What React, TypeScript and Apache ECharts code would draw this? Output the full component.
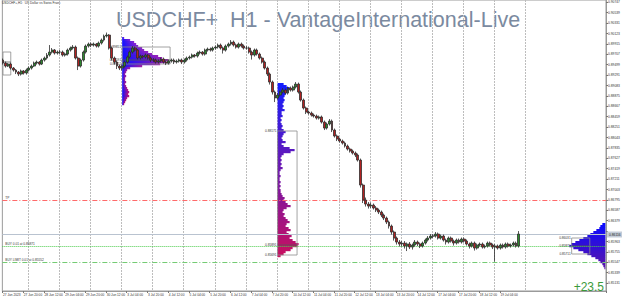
import React, { useEffect, useRef } from "react";
import * as echarts from "echarts";

// ---------- time axis ----------
const tradingDays = ["27 Jun", "28 Jun", "29 Jun", "30 Jun", "3 Jul", "4 Jul", "5 Jul", "6 Jul", "7 Jul", "10 Jul", "11 Jul", "12 Jul", "13 Jul", "14 Jul", "17 Jul", "18 Jul", "19 Jul", "20 Jul", "21 Jul", "24 Jul"];
const firstYear = "2023";
const firstHour = 4;
const totalSlots = 466; // hourly slots visible on the chart (incl. empty future area)
const lastBarSlot = 399;
const lastGridSlot = 404;
const labelEvery = 16;

// ---------- 2-hour candles (USDCHF+) ----------
const opens = [
  0.8959, 0.8953, 0.8947, 0.8951, 0.8943, 0.8939, 0.8935, 0.8931, 0.8937, 0.8933,
  0.8939, 0.8943, 0.8947, 0.8953, 0.8955, 0.8951, 0.8959, 0.8963, 0.8969, 0.8975, 0.8979, 0.8973,
  0.8975, 0.8975, 0.8969, 0.8971, 0.8979, 0.8983, 0.8985, 0.8963, 0.8947, 0.8959, 0.8975, 0.8987,
  0.8991, 0.8989, 0.8991, 0.8987, 0.8993, 0.8999, 0.9007, 0.9009, 0.8983, 0.8963, 0.8955, 0.8947,
  0.8943, 0.8947, 0.8955, 0.8965, 0.8975, 0.8983, 0.8979, 0.8963, 0.8967, 0.8965, 0.8969, 0.8963,
  0.8959, 0.8959, 0.8955, 0.8957, 0.8961, 0.8955, 0.8953, 0.8957, 0.8959, 0.8955, 0.8957, 0.8959,
  0.8955, 0.8959, 0.8963, 0.8965, 0.8969, 0.8967, 0.8973, 0.8975, 0.8971, 0.8979, 0.8981, 0.8979,
  0.8983, 0.8985, 0.8989, 0.8983, 0.8979, 0.8987, 0.8991, 0.8995, 0.8989, 0.8985, 0.8991, 0.8987,
  0.8983, 0.8983, 0.8975, 0.8969, 0.8979, 0.8971, 0.8963, 0.8955, 0.8943, 0.8931, 0.8915, 0.8895,
  0.8883, 0.8889, 0.8895, 0.8899, 0.8893, 0.8903, 0.8899, 0.8905, 0.8911, 0.8895, 0.8879, 0.8863,
  0.8855, 0.8853, 0.8849, 0.8847, 0.8843, 0.8845, 0.8835, 0.8823, 0.8831, 0.8837, 0.8819, 0.8807,
  0.8801, 0.8797, 0.8793, 0.8787, 0.8781, 0.8777, 0.8773, 0.8769, 0.8759, 0.8709, 0.8679, 0.8671,
  0.8667, 0.8669, 0.8663, 0.8659, 0.8655, 0.8649, 0.8643, 0.8635, 0.8627, 0.8615, 0.8603, 0.8595,
  0.8591, 0.8593, 0.8587, 0.8591, 0.8585, 0.8589, 0.8595, 0.8591, 0.8587, 0.8593, 0.8599, 0.8603,
  0.8607, 0.8607, 0.8611, 0.8603, 0.8607, 0.8599, 0.8595, 0.8603, 0.8597, 0.8593, 0.8599, 0.8595,
  0.8601, 0.8597, 0.8591, 0.8587, 0.8593, 0.8583, 0.8589, 0.8591, 0.8585, 0.8587, 0.8593, 0.8589,
  0.8585, 0.8587, 0.8583, 0.8589, 0.8585, 0.8591, 0.8587, 0.8589, 0.8593, 0.8587,
];
const closes = [
  0.8953, 0.8947, 0.8951, 0.8943, 0.8939, 0.8935, 0.8931, 0.8937, 0.8933, 0.8939,
  0.8943, 0.8947, 0.8953, 0.8955, 0.8951, 0.8959, 0.8963, 0.8969, 0.8975, 0.8979, 0.8973, 0.8975,
  0.8975, 0.8969, 0.8971, 0.8979, 0.8983, 0.8985, 0.8963, 0.8947, 0.8959, 0.8975, 0.8987, 0.8991,
  0.8989, 0.8991, 0.8987, 0.8993, 0.8999, 0.9007, 0.9009, 0.8983, 0.8963, 0.8955, 0.8947, 0.8943,
  0.8947, 0.8955, 0.8965, 0.8975, 0.8983, 0.8979, 0.8963, 0.8967, 0.8965, 0.8969, 0.8963, 0.8959,
  0.8959, 0.8955, 0.8957, 0.8961, 0.8955, 0.8953, 0.8957, 0.8959, 0.8955, 0.8957, 0.8959, 0.8955,
  0.8959, 0.8963, 0.8965, 0.8969, 0.8967, 0.8973, 0.8975, 0.8971, 0.8979, 0.8981, 0.8979, 0.8983,
  0.8985, 0.8989, 0.8983, 0.8979, 0.8987, 0.8991, 0.8995, 0.8989, 0.8985, 0.8991, 0.8987, 0.8983,
  0.8983, 0.8975, 0.8969, 0.8979, 0.8971, 0.8963, 0.8955, 0.8943, 0.8931, 0.8915, 0.8895, 0.8883,
  0.8889, 0.8895, 0.8899, 0.8893, 0.8903, 0.8899, 0.8905, 0.8911, 0.8895, 0.8879, 0.8863, 0.8855,
  0.8853, 0.8849, 0.8847, 0.8843, 0.8845, 0.8835, 0.8823, 0.8831, 0.8837, 0.8819, 0.8807, 0.8801,
  0.8797, 0.8793, 0.8787, 0.8781, 0.8777, 0.8773, 0.8769, 0.8759, 0.8709, 0.8679, 0.8671, 0.8667,
  0.8669, 0.8663, 0.8659, 0.8655, 0.8649, 0.8643, 0.8635, 0.8627, 0.8615, 0.8603, 0.8595, 0.8591,
  0.8593, 0.8587, 0.8591, 0.8585, 0.8589, 0.8595, 0.8591, 0.8587, 0.8593, 0.8599, 0.8603, 0.8607,
  0.8607, 0.8611, 0.8603, 0.8607, 0.8599, 0.8595, 0.8603, 0.8597, 0.8593, 0.8599, 0.8595, 0.8601,
  0.8597, 0.8591, 0.8587, 0.8593, 0.8583, 0.8589, 0.8591, 0.8585, 0.8587, 0.8593, 0.8589, 0.8585,
  0.8587, 0.8583, 0.8589, 0.8585, 0.8591, 0.8587, 0.8589, 0.8593, 0.8587, 0.8611,
];
const highs = [
  0.8962, 0.8956, 0.8953, 0.8954, 0.8945, 0.8941, 0.8937, 0.8940, 0.8939, 0.8942,
  0.8946, 0.8950, 0.8956, 0.8958, 0.8957, 0.8962, 0.8966, 0.8973, 0.8989, 0.8983, 0.8981, 0.8978,
  0.8979, 0.8978, 0.8974, 0.8982, 0.8986, 0.8989, 0.8988, 0.8966, 0.8962, 0.8978, 0.8990, 0.8994,
  0.8994, 0.8994, 0.8993, 0.8996, 0.9002, 0.9010, 0.9014, 0.9011, 0.8986, 0.8966, 0.8958, 0.8950,
  0.8950, 0.8958, 0.8968, 0.8978, 0.8987, 0.8986, 0.8981, 0.8970, 0.8969, 0.8972, 0.8971, 0.8966,
  0.8963, 0.8962, 0.8960, 0.8964, 0.8964, 0.8958, 0.8960, 0.8962, 0.8962, 0.8960, 0.8962, 0.8962,
  0.8962, 0.8966, 0.8968, 0.8972, 0.8971, 0.8976, 0.8978, 0.8977, 0.8982, 0.8984, 0.8984, 0.8986,
  0.8988, 0.8992, 0.8992, 0.8986, 0.8990, 0.8994, 0.8999, 0.8998, 0.8992, 0.8994, 0.8994, 0.8990,
  0.8987, 0.8986, 0.8978, 0.8982, 0.8982, 0.8974, 0.8966, 0.8958, 0.8946, 0.8934, 0.8918, 0.8898,
  0.8893, 0.8898, 0.8903, 0.8902, 0.8906, 0.8906, 0.8908, 0.8915, 0.8914, 0.8898, 0.8882, 0.8866,
  0.8858, 0.8856, 0.8852, 0.8850, 0.8848, 0.8848, 0.8838, 0.8834, 0.8841, 0.8840, 0.8822, 0.8810,
  0.8804, 0.8800, 0.8796, 0.8790, 0.8784, 0.8780, 0.8776, 0.8772, 0.8762, 0.8712, 0.8684, 0.8675,
  0.8674, 0.8672, 0.8667, 0.8662, 0.8658, 0.8652, 0.8646, 0.8638, 0.8630, 0.8618, 0.8606, 0.8599,
  0.8597, 0.8597, 0.8594, 0.8595, 0.8592, 0.8599, 0.8598, 0.8594, 0.8596, 0.8602, 0.8607, 0.8611,
  0.8611, 0.8615, 0.8614, 0.8610, 0.8610, 0.8602, 0.8606, 0.8606, 0.8600, 0.8602, 0.8602, 0.8604,
  0.8604, 0.8600, 0.8594, 0.8596, 0.8596, 0.8592, 0.8594, 0.8594, 0.8590, 0.8596, 0.8596, 0.8592,
  0.8591, 0.8590, 0.8592, 0.8592, 0.8594, 0.8594, 0.8592, 0.8596, 0.8596, 0.8617,
];
const lows = [
  0.8950, 0.8944, 0.8945, 0.8940, 0.8936, 0.8931, 0.8927, 0.8928, 0.8930, 0.8930,
  0.8936, 0.8940, 0.8945, 0.8950, 0.8948, 0.8949, 0.8956, 0.8960, 0.8966, 0.8972, 0.8970, 0.8970,
  0.8971, 0.8966, 0.8966, 0.8968, 0.8976, 0.8980, 0.8960, 0.8939, 0.8944, 0.8956, 0.8972, 0.8984,
  0.8985, 0.8986, 0.8984, 0.8984, 0.8990, 0.8996, 0.9004, 0.8980, 0.8958, 0.8950, 0.8941, 0.8939,
  0.8938, 0.8944, 0.8952, 0.8962, 0.8972, 0.8976, 0.8960, 0.8960, 0.8962, 0.8962, 0.8960, 0.8955,
  0.8955, 0.8952, 0.8952, 0.8954, 0.8952, 0.8949, 0.8950, 0.8954, 0.8951, 0.8952, 0.8954, 0.8951,
  0.8952, 0.8956, 0.8960, 0.8962, 0.8964, 0.8964, 0.8970, 0.8968, 0.8968, 0.8976, 0.8976, 0.8976,
  0.8980, 0.8982, 0.8980, 0.8972, 0.8976, 0.8984, 0.8988, 0.8986, 0.8982, 0.8982, 0.8984, 0.8980,
  0.8980, 0.8972, 0.8960, 0.8966, 0.8968, 0.8960, 0.8952, 0.8940, 0.8927, 0.8910, 0.8890, 0.8875,
  0.8880, 0.8886, 0.8892, 0.8890, 0.8890, 0.8896, 0.8896, 0.8902, 0.8892, 0.8876, 0.8860, 0.8851,
  0.8850, 0.8846, 0.8844, 0.8840, 0.8840, 0.8832, 0.8819, 0.8820, 0.8828, 0.8815, 0.8804, 0.8797,
  0.8794, 0.8790, 0.8784, 0.8778, 0.8774, 0.8770, 0.8765, 0.8756, 0.8704, 0.8673, 0.8666, 0.8662,
  0.8663, 0.8660, 0.8655, 0.8651, 0.8645, 0.8639, 0.8631, 0.8622, 0.8610, 0.8598, 0.8590, 0.8586,
  0.8586, 0.8582, 0.8577, 0.8581, 0.8580, 0.8586, 0.8587, 0.8583, 0.8584, 0.8590, 0.8596, 0.8600,
  0.8603, 0.8604, 0.8600, 0.8600, 0.8596, 0.8590, 0.8592, 0.8594, 0.8588, 0.8590, 0.8592, 0.8592,
  0.8594, 0.8588, 0.8582, 0.8584, 0.8578, 0.8580, 0.8586, 0.8582, 0.8582, 0.8584, 0.8586, 0.8581,
  0.8556, 0.8580, 0.8580, 0.8582, 0.8582, 0.8584, 0.8584, 0.8586, 0.8584, 0.8584,
];
const hoursPerCandle = 2;

// ---------- price axis ----------
const priceMin = 0.84971;
const priceMax = 0.90791;
const priceTicks = [
  0.85131, 0.85339, 0.85547, 0.85755, 0.85963, 0.86171, 0.86379, 0.86587, 0.86795, 0.87003,
  0.87211, 0.87419, 0.87627, 0.87835, 0.88043, 0.88251, 0.88459, 0.88667, 0.88875, 0.89083,
  0.89291, 0.89499, 0.89707, 0.89915, 0.90123, 0.90331, 0.90539, 0.90747,
];

// ---------- trade levels ----------
const bidPrice = 0.86116;
const tpPrice = 0.86791;
const buyPrice = 0.85871;
const buyLimitPrice = 0.85552;
const profitText = "+23.5";
const titleText = "USDCHF+  H1 - VantageInternational-Live";
const infoText = "USDCHF+,H1:  US Dollar vs Swiss Franc";
const levelLabels = ["TP", "BUY 0.01 at " + buyPrice.toFixed(5), "BUY LIMIT 0.01 at " + buyLimitPrice.toFixed(5), bidPrice.toFixed(5)];

// ---------- volume profiles ----------
const profileStep = 0.0004;
const profileA_start = 92;
const profileA_top = 0.90031;
const profileA_vol = [2, 8, 12, 14, 16, 20, 22, 26, 30, 36, 40, 46, 44, 38, 20, 8, 5, 4, 3, 4, 3, 3, 4, 3, 4, 5, 6, 7, 6, 7, 5, 4, 3, 2];
const profileB_start = 212;
const profileB_top = 0.89111;
const profileB_vol = [
  6, 9, 12, 10, 9, 8, 7, 6, 7, 6, 5, 6, 5, 7, 4, 4, 5, 3, 4, 3, 4, 5, 4, 6, 8, 6, 5, 4, 5, 8,
  4, 6, 12, 17, 13, 6, 4, 3, 4, 3, 4, 3, 5, 3, 2, 2, 3, 2, 2, 3, 2, 3, 2, 3, 3, 4, 5, 7, 6, 8,
  10, 13, 9, 6, 5, 7, 6, 8, 10, 12, 9, 8, 11, 13, 9, 11, 14, 12, 15, 18, 21, 20, 15, 13, 8, 6, 3,
];
const profileC_start = 465;
const profileC_top = 0.86311;
const profileC_vol = [3, 5, 6, 9, 12, 15, 18, 22, 26, 30, 34, 36, 32, 27, 22, 18, 14, 10, 7, 5, 3, 2, 1];

// value-area boxes: [startSlot, endSlot, high, poc, low, showLabels]
const vaBoxes = [
  [0, 6, 0.89751, 0.89551, 0.89291, 0],
  [92, 129, 0.89851, 0.89591, 0.89511, 1],
  [212, 227, 0.88171, 0.85891, 0.85691, 1],
  [439, 453, 0.86031, 0.85871, 0.85711, 1],
];

const FONT = "'Liberation Sans', Arial, sans-serif";

function slotNames(): string[] {
  const names: string[] = [];
  let d = 0;
  let h = firstHour;
  while (names.length < totalSlots) {
    names.push(tradingDays[d] + " " + String(h).padStart(2, "0") + ":00");
    h++;
    if (h > 23) {
      h = 0;
      d++;
    }
  }
  return names;
}

function mix(a: number[], b: number[], t: number) {
  const c = a.map((v, i) => Math.round(v + (b[i] - v) * t));
  return `rgb(${c[0]},${c[1]},${c[2]})`;
}

function profileSeries(start: number, top: number, vols: number[], dir: number, colTop: number[], colBot: number[], hGrad: boolean) {
  const n = vols.length;
  return {
    type: "custom",
    silent: true,
    z: 1,
    clip: true,
    renderItem: (params: any, api: any) => {
      const i = params.dataIndex;
      const pt = api.coord([api.value(0), api.value(1)]);
      const h = api.size([0, profileStep])[1];
      const w = api.value(2) * 1;
      const x = dir > 0 ? pt[0] : pt[0] - w;
      const rowCol = mix(colTop, colBot, n > 1 ? i / (n - 1) : 0);
      const fill = hGrad
        ? new echarts.graphic.LinearGradient(0, 0, 1, 0, [
            { offset: 0, color: "#1010ff" },
            { offset: 1, color: rowCol },
          ])
        : rowCol;
      return {
        type: "rect",
        shape: { x, y: pt[1] - h / 2, width: w, height: h + 0.2 },
        style: { fill },
      };
    },
    data: vols.map((v, i) => [start, top - i * profileStep, v]),
  };
}

// styles of the horizontal trade lines: [color, dash]
const levelStyles: [string, number[] | null][] = [
  ["#ff6a6a", [5, 2, 1, 2]],
  ["#4ccc4c", [1, 1]],
  ["#74cc74", [5, 2, 1, 2]],
  ["#b9c3d0", null],
];

export default function App() {
  const ref = useRef<HTMLDivElement>(null);
  useEffect(() => {
    document.body.style.margin = "0";
    const chart = echarts.init(ref.current!, null, { renderer: "svg" });
    const names = slotNames();
    const candleData = opens.map((o, i) => [i * hoursPerCandle, o, closes[i], lows[i], highs[i]]);
    const isDayStart = (idx: number) => idx > 0 && idx <= lastGridSlot && names[idx].endsWith(" 00:00");
    const isLabel = (idx: number) => idx % labelEvery === 0 && idx <= lastBarSlot;
    // the bid box on the price scale hides the regular label under it
    const shownTicks = priceTicks.filter((p) => Math.abs(p - bidPrice) > 0.0012);
    const levels = [tpPrice, buyPrice, buyLimitPrice, bidPrice];

    chart.setOption({
      animation: false,
      backgroundColor: "#ffffff",
      grid: { left: 0, top: 0, width: 606, height: 291, show: true, borderColor: "#9a9a9a", borderWidth: 1 },
      xAxis: {
        type: "category",
        data: names,
        boundaryGap: true,
        axisLine: { show: true, lineStyle: { color: "#9a9a9a", width: 1 } },
        axisTick: { show: true, interval: (i: number) => isLabel(i), length: 2, lineStyle: { color: "#777" } },
        axisLabel: {
          show: true,
          interval: (i: number) => isLabel(i),
          formatter: (v: string, i: number) => (i === 0 ? tradingDays[0] + " " + firstYear : v),
          fontSize: 3.2,
          color: "#333",
          align: "left",
          margin: 2,
          fontFamily: FONT,
        },
        splitLine: { show: true, interval: (i: number) => isDayStart(i), lineStyle: { color: "#bdbdbd", type: [2, 1], width: 1 } },
      },
      yAxis: {
        type: "value",
        position: "right",
        min: priceMin,
        max: priceMax,
        scale: true,
        axisLine: { show: true, lineStyle: { color: "#9a9a9a", width: 1 } },
        axisTick: { show: true, length: 2, customValues: priceTicks, lineStyle: { color: "#777" } },
        axisLabel: {
          show: true,
          customValues: shownTicks,
          formatter: (v: number) => v.toFixed(5),
          fontSize: 3.3,
          color: "#333",
          margin: 2,
          fontFamily: FONT,
        },
        splitLine: { show: false },
      },
      series: [
        profileSeries(profileA_start, profileA_top, profileA_vol, 1, [130, 40, 215], [205, 16, 100], true),
        profileSeries(profileB_start, profileB_top, profileB_vol, 1, [20, 30, 255], [200, 16, 96], false),
        profileSeries(profileC_start, profileC_top, profileC_vol, -1, [10, 10, 255], [90, 20, 170], false),
        {
          type: "custom",
          silent: true,
          z: 2,
          clip: false,
          renderItem: (params: any, api: any) => {
            const tl = api.coord([api.value(0), api.value(2)]);
            const br = api.coord([api.value(1), api.value(4)]);
            const py = api.coord([api.value(0), api.value(3)])[1];
            const children: any[] = [
              { type: "rect", shape: { x: tl[0], y: tl[1], width: br[0] - tl[0], height: br[1] - tl[1] }, style: { fill: "none", stroke: "#8c8c8c", lineWidth: 0.8 } },
              { type: "line", shape: { x1: tl[0], y1: py, x2: br[0], y2: py }, style: { stroke: "#555", lineWidth: 0.8 } },
            ];
            if (api.value(5)) {
              [
                [api.value(2), tl[1]],
                [api.value(3), py],
                [api.value(4), br[1]],
              ].forEach(([v, y]) => {
                children.push({
                  type: "text",
                  x: tl[0] - 1,
                  y,
                  style: { text: Number(v).toFixed(5), fontSize: 3.2, fill: "#333", align: "right", verticalAlign: "middle", fontFamily: FONT },
                });
              });
            }
            return { type: "group", children };
          },
          data: vaBoxes,
        },
        {
          type: "custom",
          silent: true,
          z: 2,
          clip: false,
          renderItem: (params: any, api: any) => {
            const i = params.dataIndex;
            const cs = params.coordSys;
            const y = Math.round(api.coord([0, api.value(0)])[1]) + 0.5;
            const [color, dash] = levelStyles[i];
            const children: any[] = [
              { type: "line", shape: { x1: cs.x, y1: y, x2: cs.x + cs.width, y2: y }, style: { stroke: color, lineWidth: 1, lineDash: dash || undefined } },
            ];
            if (i < 3) {
              children.push({ type: "text", x: cs.x + 3, y: y - 1, style: { text: levelLabels[i], fontSize: 3.2, fill: "#333", verticalAlign: "bottom", fontFamily: FONT } });
            } else {
              children.push({ type: "rect", shape: { x: cs.x + cs.width + 1, y: y - 3, width: 15, height: 6 }, style: { fill: "#c4ccd8" } });
              children.push({ type: "text", x: cs.x + cs.width + 3, y, style: { text: levelLabels[i], fontSize: 3.3, fill: "#222", verticalAlign: "middle", fontFamily: FONT } });
            }
            return { type: "group", children };
          },
          data: levels.map((p) => [p]),
        },
        {
          type: "candlestick",
          z: 3,
          barWidth: 2.4,
          encode: { x: 0, y: [1, 2, 3, 4] },
          itemStyle: { color: "#2d8a2d", color0: "#b22222", borderColor: "#2e2e2e", borderColor0: "#2e2e2e", borderWidth: 0.8 },
          data: candleData,
        },
      ],
      graphic: [
        { type: "text", left: 2, top: 1, style: { text: infoText, fontSize: 3.2, fill: "#333", fontFamily: FONT } },
        { type: "text", x: 116, y: 20, style: { text: titleText, fontSize: 21.5, fill: "#7b8aa0", fontFamily: FONT, verticalAlign: "middle" } },
        { type: "text", x: 604, y: 287, style: { text: profitText, fontSize: 12, fill: "#3a9a3a", fontFamily: FONT, align: "right", verticalAlign: "middle" } },
      ],
    });
    return () => chart.dispose();
  }, []);
  return <div ref={ref} style={{ position: "fixed", left: 0, top: 0, width: 625, height: 300 }} />;
}
